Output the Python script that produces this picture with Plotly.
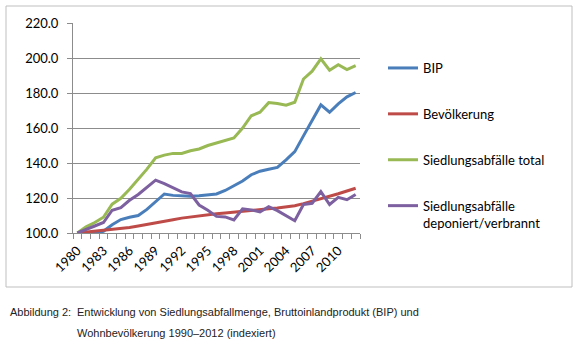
import plotly.graph_objects as go

# Indexed series, 1980 = 100
years = list(range(1980, 2013))

bip = [100, 100.3, 99.7, 101, 104.7, 107.7, 109, 110, 113.5, 118, 122.3,
       121.5, 121.2, 121, 121.3, 121.8, 122.3, 124.3, 127.2, 129.7, 133.3,
       135.3, 136.4, 137.5, 141.8, 146.5, 155.5, 164.8, 173.2, 169, 173.8,
       177.8, 180.3]

bevoelkerung = [100, 100.5, 101, 101.5, 102, 102.5, 103.2, 104, 104.8, 105.7,
                106.6, 107.6, 108.5, 109.2, 109.8, 110.6, 111, 111.4, 111.8,
                112.3, 112.8, 113.3, 113.8, 114.3, 114.9, 115.6, 116.8, 118.1,
                119.5, 120.9, 122.4, 124, 125.6]

abfaelle_total = [100, 103.5, 106, 109, 116.5, 119.8, 125, 130.5, 136.5, 143,
                  144.5, 145.5, 145.5, 147, 148, 150, 151.5, 153, 154.3, 160,
                  167, 169, 174.5, 174, 173, 174.7, 188, 192.5, 199.5, 193,
                  196.2, 193.4, 195.6]

abfaelle_dep = [100, 102.2, 104, 106, 113, 114.5, 118.7, 122, 126, 130.2,
                128.2, 126, 123.5, 122.5, 116, 113, 109.5, 109.2, 107.5, 113.8,
                113.2, 112, 115, 112.8, 109.8, 107, 116.3, 117, 123.6, 116.3,
                120.4, 119, 122]

series_names = ["BIP", "Bevölkerung", "Siedlungsabfälle total",
                "Siedlungsabfälle<br>deponiert/verbrannt"]
series_values = [bip, bevoelkerung, abfaelle_total, abfaelle_dep]
series_colors = ["#4A7EBB", "#BE4B48", "#98B954", "#7D60A0"]

x_labels = list(range(1980, 2011, 3))
y_ticks = list(range(100, 221, 20))

W, H = 582, 345
L, R, T, B = 73, 222, 23, 112
PW, PH = W - L - R, H - T - B

AXIS_FONT = dict(family="Lato, Carlito, sans-serif", size=13, color="#000000")
GRID = "#8C8C8C"

fig = go.Figure()
for i, (name, vals, col) in enumerate(zip(series_names, series_values, series_colors)):
    fig.add_trace(go.Scatter(
        x=years, y=vals, name=name, mode="lines",
        line=dict(color=col, width=3),
        legendgroup=f"g{i}",
    ))

def px_x(p):
    return (p - L) / PW

def px_y(p):
    return 1 - (p - T) / PH

# Chart-area frame
fig.add_shape(type="rect", xref="paper", yref="paper",
              x0=px_x(6), x1=px_x(572), y0=px_y(287), y1=px_y(6),
              line=dict(color="#BFBFBF", width=1), fillcolor="rgba(0,0,0,0)",
              layer="below")

fig.update_layout(
    width=W, height=H,
    margin=dict(l=L, r=R, t=T, b=B),
    paper_bgcolor="white", plot_bgcolor="white",
    showlegend=True,
    legend=dict(
        x=px_x(383), y=px_y(53), xanchor="left", yanchor="top",
        font=AXIS_FONT, traceorder="grouped", tracegroupgap=26,
        itemwidth=30, valign="top", bgcolor="rgba(0,0,0,0)",
    ),
    xaxis=dict(
        range=[1979.5, 2012.5],
        tickmode="array", tickvals=x_labels,
        ticktext=[str(v) for v in x_labels],
        tickangle=-45, tickfont=AXIS_FONT, ticks="",
        ticklabelstandoff=4,
        showgrid=False, zeroline=False,
        showline=True, linecolor=GRID, linewidth=1,
        minor=dict(tickmode="array",
                   tickvals=[y - 0.5 for y in range(1980, 2014)],
                   ticks="outside", ticklen=5, tickcolor=GRID, showgrid=False),
    ),
    yaxis=dict(
        range=[100, 220], tickmode="array", tickvals=y_ticks,
        ticktext=[f"{v:.1f}" for v in y_ticks],
        tickfont=AXIS_FONT, ticks="outside", ticklen=5, tickcolor=GRID,
        ticklabelstandoff=6,
        showgrid=True, gridcolor=GRID, gridwidth=1, zeroline=False,
        showline=True, linecolor=GRID, linewidth=1,
    ),
)

CAP_FONT = dict(family="Liberation Sans, Arial, sans-serif", size=11, color="#222222")
fig.add_annotation(xref="paper", yref="paper", x=px_x(8), y=px_y(312),
                   xanchor="left", yanchor="middle", showarrow=False,
                   text="Abbildung 2:", font=CAP_FONT)
fig.add_annotation(xref="paper", yref="paper", x=px_x(75), y=px_y(312),
                   xanchor="left", yanchor="middle", showarrow=False,
                   text="Entwicklung von Siedlungsabfallmenge, Bruttoinlandprodukt (BIP) und",
                   font=CAP_FONT)
fig.add_annotation(xref="paper", yref="paper", x=px_x(75), y=px_y(333),
                   xanchor="left", yanchor="middle", showarrow=False,
                   text="Wohnbevölkerung 1990–2012 (indexiert)", font=CAP_FONT)

fig.write_html("out.html")
